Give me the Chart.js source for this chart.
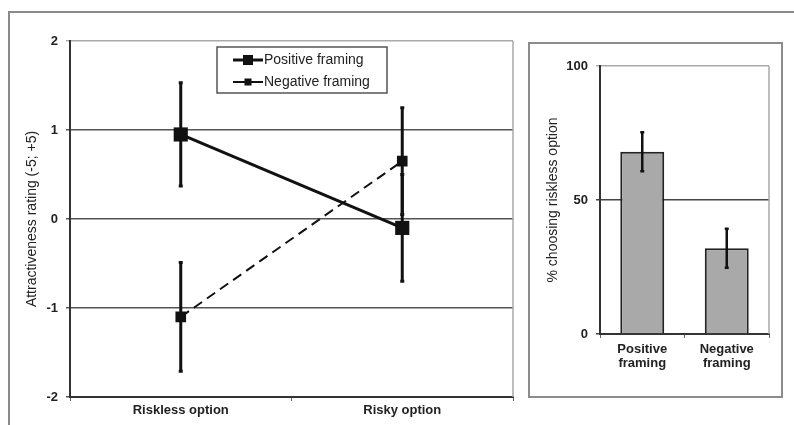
<!DOCTYPE html>
<html>
<head>
<meta charset="utf-8">
<script src="https://cdn.jsdelivr.net/npm/chart.js@4"></script>
<style>
  html, body { margin: 0; padding: 0; background: #fff; }
  #wrap { position: relative; width: 794px; height: 425px; overflow: hidden; }
  #outer { position: absolute; left: 8px; top: 11px; width: 800px; height: 430px;
           border-top: 2px solid #8a8a8a; border-left: 2px solid #8a8a8a; }
  #panel { position: absolute; left: 528px; top: 42px; width: 251px; height: 352px;
           border: 2px solid #8c8c8c; }
  canvas { position: absolute; }
  #ratingChart { left: 0; top: 0; }
  #choiceChart { left: 530px; top: 44px; }
</style>
</head>
<body>
<div id="wrap">
  <div id="outer"></div>
  <div id="panel"></div>
  <canvas id="ratingChart" width="520" height="425"></canvas>
  <canvas id="choiceChart" width="250" height="351"></canvas>
</div>
<script>
// attractiveness ratings, mean and error per option
const options = ['Riskless option', 'Risky option'];
const positiveMeans = [0.95, -0.1];
const positiveErrors = [0.58, 0.6];
const negativeMeans = [-1.1, 0.65];
const negativeErrors = [0.61, 0.6];
const ratingTicks = [-2, -1, 0, 1, 2];

// share choosing the riskless option
const framings = [['Positive', 'framing'], ['Negative', 'framing']];
const choicePercent = [68, 32];
const choiceErrors = [7.3, 7.3];

const FONT = "'Liberation Sans', Arial, sans-serif";
Chart.defaults.font.family = FONT;
Chart.defaults.color = '#222';
Chart.defaults.animation = false;

// vertical error bars read from dataset.errors
const errorBars = {
  id: 'errorBars',
  afterDatasetsDraw(chart) {
    const ctx = chart.ctx;
    const y = chart.scales.y;
    chart.data.datasets.forEach((ds, di) => {
      if (!ds.errors) return;
      const meta = chart.getDatasetMeta(di);
      ctx.save();
      ctx.strokeStyle = '#111';
      ctx.lineWidth = ds.errorWidth || 3;
      ds.data.forEach((v, i) => {
        const px = meta.data[i].x;
        const top = y.getPixelForValue(v + ds.errors[i]);
        const bot = y.getPixelForValue(v - ds.errors[i]);
        ctx.beginPath();
        ctx.moveTo(px, top); ctx.lineTo(px, bot);
        ctx.moveTo(px - 2, top); ctx.lineTo(px + 2, top);
        ctx.moveTo(px - 2, bot); ctx.lineTo(px + 2, bot);
        ctx.stroke();
      });
      ctx.restore();
    });
  }
};

// light right border of the plot area
const plotFrame = {
  id: 'plotFrame',
  beforeDatasetsDraw(chart) {
    const { ctx, chartArea: a } = chart;
    ctx.save();
    ctx.strokeStyle = '#a8a8a8';
    ctx.lineWidth = 1.5;
    ctx.beginPath();
    ctx.moveTo(a.right, a.top);
    ctx.lineTo(a.right, a.bottom);
    ctx.stroke();
    ctx.restore();
  }
};

// boxed legend with line + marker samples
const boxLegend = {
  id: 'boxLegend',
  afterDraw(chart, args, opts) {
    const ctx = chart.ctx;
    const { left, top, width, height, markers } = opts;
    ctx.save();
    ctx.strokeStyle = '#555';
    ctx.lineWidth = 1.5;
    ctx.strokeRect(left, top, width, height);
    ctx.font = '14px ' + FONT;
    ctx.textBaseline = 'middle';
    chart.data.datasets.forEach((ds, i) => {
      const cy = top + 13 + i * 22;
      ctx.strokeStyle = '#111';
      ctx.lineWidth = ds.borderWidth;
      ctx.beginPath();
      ctx.moveTo(left + 16, cy);
      ctx.lineTo(left + 46, cy);
      ctx.stroke();
      const r = markers[i];
      ctx.fillStyle = '#111';
      ctx.fillRect(left + 31 - r, cy - r, r * 2, r * 2);
      ctx.fillStyle = '#222';
      ctx.fillText(ds.label, left + 47, cy);
    });
    ctx.restore();
  }
};

new Chart(document.getElementById('ratingChart'), {
  type: 'line',
  data: {
    labels: options,
    datasets: [
      {
        label: 'Positive framing',
        data: positiveMeans,
        errors: positiveErrors,
        borderColor: '#111',
        backgroundColor: '#111',
        borderWidth: 3,
        pointStyle: 'rect',
        pointRadius: 10,
        pointBorderWidth: 0
      },
      {
        label: 'Negative framing',
        data: negativeMeans,
        errors: negativeErrors,
        borderColor: '#111',
        backgroundColor: '#111',
        borderWidth: 2,
        borderDash: [10, 6],
        pointStyle: 'rect',
        pointRadius: 7.5,
        pointBorderWidth: 0
      }
    ]
  },
  options: {
    responsive: false,
    devicePixelRatio: 1,
    layout: { autoPadding: false, padding: { left: 0, top: 41, right: 7, bottom: 0 } },
    plugins: {
      legend: { display: false },
      tooltip: { enabled: false },
      boxLegend: { left: 217, top: 47, width: 170, height: 46, markers: [5, 3.5] }
    },
    scales: {
      x: {
        offset: true,
        grid: { drawOnChartArea: false, offset: true, tickLength: 4, color: '#666' },
        border: { color: '#333', width: 2 },
        ticks: { font: { size: 13, weight: 'bold' }, padding: 2, maxRotation: 0 },
        afterFit(scale) { scale.height = 28; }
      },
      y: {
        min: ratingTicks[0],
        max: ratingTicks[ratingTicks.length - 1],
        afterBuildTicks(scale) { scale.ticks = ratingTicks.map(v => ({ value: v })); },
        grid: {
          color: ctx => ctx.tick && ctx.tick.value === 2 ? '#aaa' : '#555',
          lineWidth: 1.5,
          tickLength: 4
        },
        border: { color: '#333', width: 2 },
        ticks: { font: { size: 13, weight: 'bold' }, padding: 8 },
        title: {
          display: true,
          text: 'Attractiveness rating (-5; +5)',
          font: { size: 14 },
          padding: { top: 24, bottom: 0 }
        },
        afterFit(scale) { scale.width = 70; }
      }
    }
  },
  plugins: [plotFrame, errorBars, boxLegend]
});

new Chart(document.getElementById('choiceChart'), {
  type: 'bar',
  data: {
    labels: framings,
    datasets: [{
      data: choicePercent,
      errors: choiceErrors,
      errorWidth: 2.5,
      backgroundColor: '#a9a9a9',
      borderColor: '#222',
      borderWidth: 2,
      categoryPercentage: 1,
      barPercentage: 0.52
    }]
  },
  options: {
    responsive: false,
    devicePixelRatio: 1,
    layout: { padding: { left: 0, top: 22, right: 11, bottom: 0 } },
    plugins: { legend: { display: false }, tooltip: { enabled: false } },
    scales: {
      x: {
        grid: { drawOnChartArea: false, offset: true, tickLength: 4, color: '#666' },
        border: { color: '#333', width: 2 },
        ticks: { font: { size: 13, weight: 'bold', lineHeight: 1.08 }, padding: 4, maxRotation: 0 },
        afterFit(scale) { scale.height = 61; }
      },
      y: {
        min: 0,
        max: 100,
        ticks: { stepSize: 50, font: { size: 13, weight: 'bold' }, padding: 8 },
        grid: {
          color: ctx => ctx.tick && ctx.tick.value === 100 ? '#aaa' : '#444',
          lineWidth: 1.5,
          tickLength: 4
        },
        border: { color: '#333', width: 2 },
        title: {
          display: true,
          text: '% choosing riskless option',
          font: { size: 14 },
          padding: { top: 15, bottom: 0 }
        },
        afterFit(scale) { scale.width = 70; }
      }
    }
  },
  plugins: [plotFrame, errorBars]
});
</script>
</body>
</html>
